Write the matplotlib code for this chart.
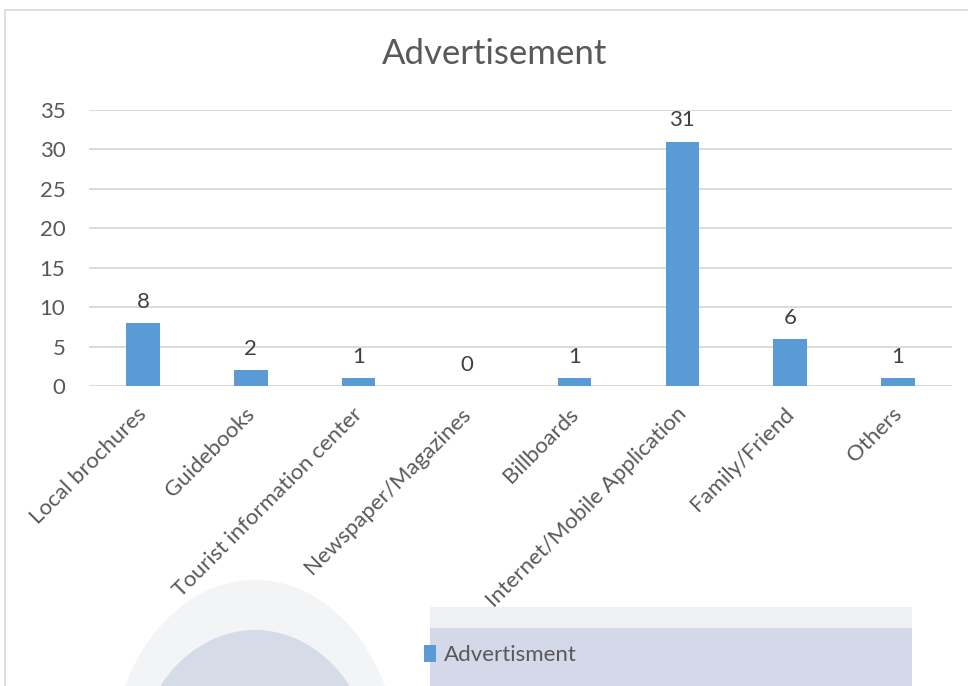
import matplotlib
matplotlib.use("Agg")
import matplotlib.pyplot as plt
import matplotlib.transforms as mtransforms
from matplotlib.patches import Rectangle, Ellipse

categories = ["Local brochures", "Guidebooks", "Tourist information center",
              "Newspaper/Magazines", "Billboards", "Internet/Mobile Application",
              "Family/Friend", "Others"]
values = [8, 2, 1, 0, 1, 31, 6, 1]
yticks = [0, 5, 10, 15, 20, 25, 30, 35]
series_name = "Advertisment"
title = "Advertisement"

W, H = 968, 686
plt.rcParams['font.family'] = ['Lato', 'DejaVu Sans']
fig = plt.figure(figsize=(W / 100, H / 100), dpi=100)
fig.patch.set_facecolor("white")

def px(x, y):
    return x / W, 1 - y / H

# watermark (background decoration)
wm = dict(transform=fig.transFigure, zorder=0)
fig.patches.append(Ellipse(px(255, 770), 290 / W, 380 / H, facecolor="#f3f4f6", edgecolor="none", **wm))
fig.patches.append(Ellipse(px(255, 775), 240 / W, 290 / H, facecolor="#d6dbe8", edgecolor="none", **wm))
fig.patches.append(Rectangle(px(430, 700), 482 / W, 93 / H, facecolor="#eef0f4", edgecolor="none", **wm))
fig.patches.append(Rectangle(px(430, 700), 482 / W, 72 / H, facecolor="#d3d9e8", edgecolor="none", **wm))

# chart border
fig.patches.append(Rectangle(px(5, 700), 1100 / W, 690 / H, transform=fig.transFigure,
                             facecolor="none", edgecolor="#d9d9d9", linewidth=1.2, zorder=1))

ax = fig.add_axes([89 / W, 1 - 386 / H, (952 - 89) / W, (386 - 110) / H])
ax.set_facecolor("none")
x = list(range(len(categories)))
bars = ax.bar(x, values, width=0.31, color="#5b9bd5", label=series_name, zorder=3)
for xi, v in zip(x, values):
    ax.annotate(str(v), (xi, v), xytext=(0, 8), textcoords="offset points",
                ha="center", va="bottom", fontsize=16, color="#404040")

ax.set_xlim(-0.5, len(categories) - 0.5)
ax.set_ylim(0, 35)
ax.set_yticks(yticks)
ax.set_yticklabels([str(t) for t in yticks], fontsize=16, color="#595959")
ax.yaxis.grid(True, color="#d9d9d9", linewidth=1.3, zorder=0)
ax.set_axisbelow(True)
ax.tick_params(axis="y", length=0, pad=17)
ax.tick_params(axis="x", length=0, pad=18)
ax.set_xticks(x)
ax.set_xticklabels(categories, rotation=45, ha="right", va="center",
                   rotation_mode="anchor", fontsize=16, color="#595959")
shift = mtransforms.ScaledTranslation(1 / 100, 0, fig.dpi_scale_trans)
for lab in ax.get_xticklabels():
    lab.set_transform(lab.get_transform() + shift)
for s in ax.spines.values():
    s.set_visible(False)

fig.text(495 / W, 1 - 54 / H, title, ha="center", va="center", fontsize=25, color="#595959")

leg = fig.legend(handles=[bars], labels=[series_name], loc="center",
                 bbox_to_anchor=px(500, 655), frameon=False, fontsize=16,
                 handlelength=0.55, handleheight=0.8, handletextpad=0.35,
                 labelcolor="#595959")

fig.savefig("out.png", dpi=100)
